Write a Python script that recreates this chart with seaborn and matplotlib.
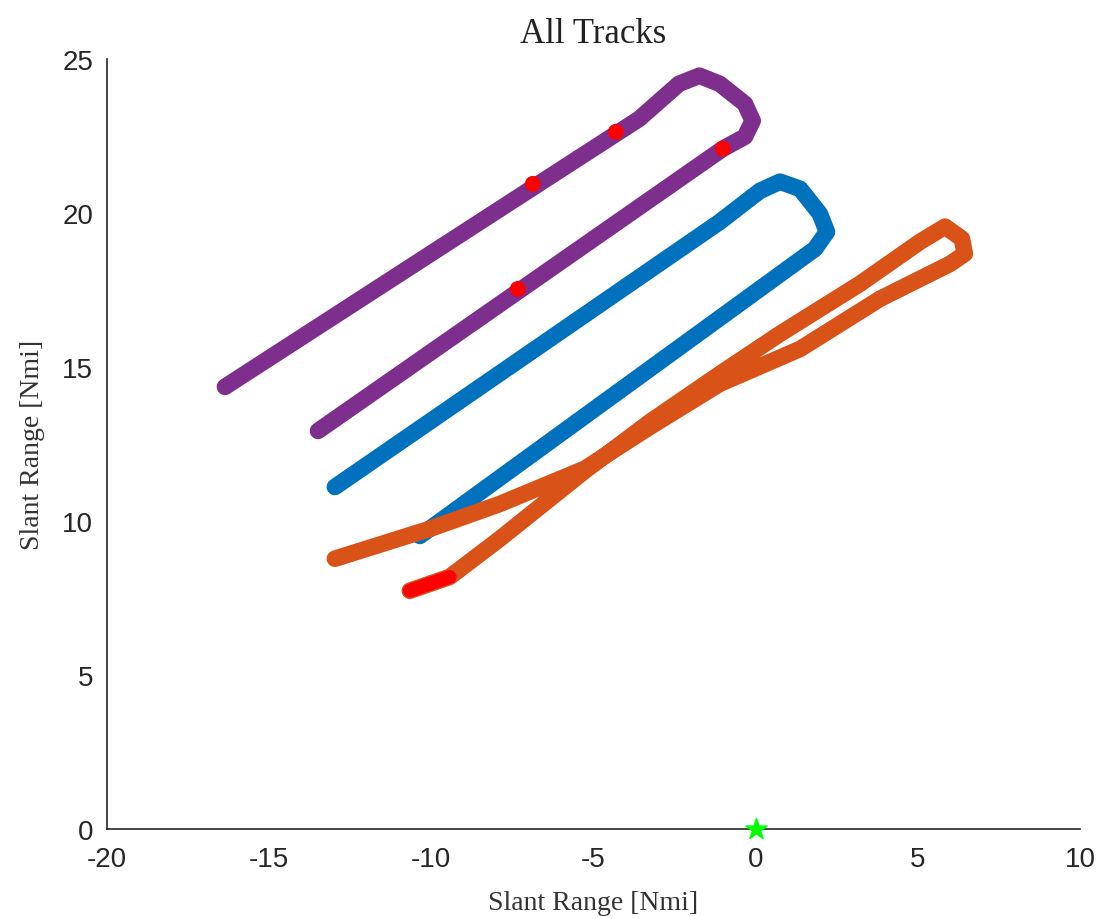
import numpy as np
import pandas as pd
import matplotlib
matplotlib.use("Agg")
import matplotlib.pyplot as plt
import seaborn as sns

# track waypoints (Nmi)
purple_x = [-16.36, -3.59, -2.36, -1.73, -1.11, -0.33, -0.09, -0.33, -1.01, -13.49]
purple_y = [14.35, 23.05, 24.19, 24.45, 24.19, 23.54, 22.99, 22.47, 22.08, 12.92]

blue_x = [-12.97, -1.10, 0.13, 0.75, 1.37, 1.98, 2.20, 1.83, -10.35]
blue_y = [11.10, 19.71, 20.71, 21.01, 20.78, 19.97, 19.38, 18.83, 9.51]

orange_x = [-10.66, -9.43, -7.88, -5.27, -3.26, -1.10, 0.75, 3.21, 5.07, 5.84,
            6.36, 6.45, 5.99, 3.84, 1.37, -1.10, -3.26, -5.27, -7.88, -10.04, -12.97]
orange_y = [7.73, 8.18, 9.42, 11.62, 13.21, 14.77, 16.07, 17.69, 19.06, 19.55,
            19.16, 18.67, 18.34, 17.21, 15.58, 14.45, 13.05, 11.69, 10.55, 9.74, 8.77]

# red marks (coast points) and sensor position
red_x = [-4.31, -6.87, -1.01, -7.33]
red_y = [22.63, 20.94, 22.08, 17.53]
red_seg_x = [-10.66, -9.43]
red_seg_y = [7.73, 8.18]
sensor_x = [0]
sensor_y = [0]

c_blue = "#0072BD"
c_orange = "#D95319"
c_purple = "#7E2F8E"

sns.set_style("white")
plt.rcParams['font.family'] = ['Liberation Sans', 'DejaVu Sans']
plt.rcParams['axes.unicode_minus'] = False

fig = plt.figure(figsize=(11.02, 9.2), dpi=100)
ax = fig.add_axes([0.097, 0.098, 0.883, 0.837])

tracks = [(purple_x, purple_y, c_purple), (blue_x, blue_y, c_blue), (orange_x, orange_y, c_orange)]
for tx, ty, col in tracks:
    df = pd.DataFrame({"x": tx, "y": ty})
    sns.lineplot(data=df, x="x", y="y", sort=False, estimator=None, color=col,
                 linewidth=12, solid_capstyle="round", solid_joinstyle="round", ax=ax)

seg = pd.DataFrame({"x": red_seg_x, "y": red_seg_y})
sns.lineplot(data=seg, x="x", y="y", sort=False, estimator=None, color="#FF0000",
             linewidth=10, solid_capstyle="round", ax=ax)

red = pd.DataFrame({"x": red_x, "y": red_y})
sns.scatterplot(data=red, x="x", y="y", color="#FF0000", marker="o", s=130,
                edgecolor="none", ax=ax, zorder=5)

sensor = pd.DataFrame({"x": sensor_x, "y": sensor_y})
sns.scatterplot(data=sensor, x="x", y="y", color="#00FF00", marker="*", s=260,
                edgecolor="#00FF00", linewidth=1, ax=ax, zorder=6, clip_on=False)

ax.set_xlim(-20, 10)
ax.set_ylim(0, 25)
ax.set_xticks(range(-20, 11, 5))
ax.set_yticks(range(0, 26, 5))

for s in ["top", "right"]:
    ax.spines[s].set_visible(False)
for s in ["left", "bottom"]:
    ax.spines[s].set_color("#262626")
    ax.spines[s].set_linewidth(1.2)

ax.tick_params(direction="in", length=8, width=1.1, color="#262626",
               labelsize=20, labelcolor="#262626")
ax.tick_params(axis="x", pad=12)
ax.tick_params(axis="y", pad=10)

serif = ['Liberation Serif', 'DejaVu Serif']
ax.set_title("All Tracks", family=serif, fontsize=25, color="#222222", pad=12)
ax.set_xlabel("Slant Range [Nmi]", family=serif, fontsize=20, color="#333333", labelpad=13)
ax.set_ylabel("Slant Range [Nmi]", family=serif, fontsize=20, color="#333333", labelpad=12)

fig.savefig("out.png", dpi=100)
